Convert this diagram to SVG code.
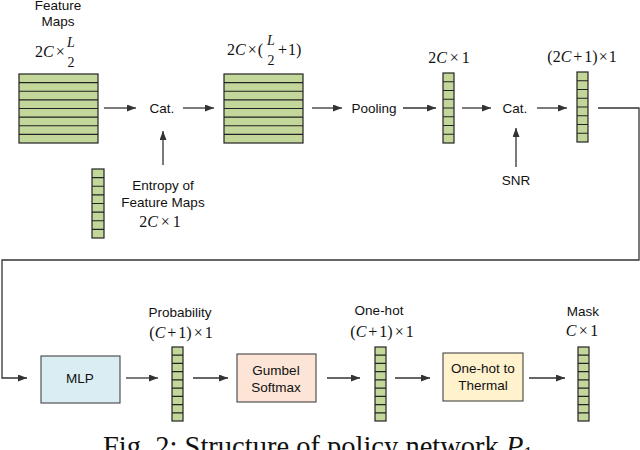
<svg xmlns="http://www.w3.org/2000/svg" width="640" height="450" viewBox="0 0 640 450">
<style>
.lbl{font-family:"Liberation Sans",Arial,sans-serif;font-size:13.5px;fill:#111;text-anchor:middle}
.math{font-family:"Liberation Serif","Times New Roman",serif;font-size:16px;fill:#111}
.mi{font-style:italic}
.frac{font-family:"Liberation Serif","Times New Roman",serif;font-size:14px;fill:#111;text-anchor:middle}
.grn{fill:#c4d79b;stroke:#222;stroke-width:1.2}
.sep{stroke:#222;stroke-width:1.2;fill:none}
.box{stroke:#444;stroke-width:1.1}
.con{stroke:#333;stroke-width:1.3;fill:none}
.cap{font-family:"Liberation Serif","Times New Roman",serif;font-size:28.5px;fill:#111}
</style>
<defs>
<marker id="ah" markerUnits="userSpaceOnUse" markerWidth="10" markerHeight="8" refX="9" refY="3.5" orient="auto">
<path d="M0,0 L9,3.5 L0,7 z" fill="#333"/>
</marker>
</defs>

<g id="connectors">
<path class="con" d="M104,108 H136" marker-end="url(#ah)"/>
<path class="con" d="M183,108 H214" marker-end="url(#ah)"/>
<path class="con" d="M163,165 V131" marker-end="url(#ah)"/>
<path class="con" d="M312,108 H342" marker-end="url(#ah)"/>
<path class="con" d="M403,108 H436" marker-end="url(#ah)"/>
<path class="con" d="M462,108 H491" marker-end="url(#ah)"/>
<path class="con" d="M537,108 H567" marker-end="url(#ah)"/>
<path class="con" d="M516,167 V128" marker-end="url(#ah)"/>
<path class="con" d="M598,108 H639 V260 H2 V378 H27" marker-end="url(#ah)"/>
<path class="con" d="M126,378 H158" marker-end="url(#ah)"/>
<path class="con" d="M193,378 H228" marker-end="url(#ah)"/>
<path class="con" d="M327,378 H360" marker-end="url(#ah)"/>
<path class="con" d="M395,378 H430" marker-end="url(#ah)"/>
<path class="con" d="M529,378 H565" marker-end="url(#ah)"/>
</g>

<g id="feature-maps">
<text class="lbl" x="58" y="10">Feature</text>
<text class="lbl" x="58" y="26">Maps</text>
<text class="math" x="35" y="57">2<tspan class="mi">C</tspan><tspan dx="2">×</tspan></text>
<text class="frac" x="71" y="47"><tspan class="mi">L</tspan></text>
<text class="frac" x="71" y="67">2</text>
<rect class="grn" x="19" y="74" width="79" height="69"/>
<path class="sep" d="M19,82.6H98M19,91.25H98M19,99.9H98M19,108.5H98M19,117.1H98M19,125.75H98M19,134.4H98"/>
</g>

<g id="cat1">
<text class="lbl" x="162" y="113">Cat.</text>
</g>

<g id="entropy">
<rect class="grn" x="92" y="169" width="12" height="69"/>
<path class="sep" d="M92,177.6H104M92,186.25H104M92,194.9H104M92,203.5H104M92,212.1H104M92,220.75H104M92,229.4H104"/>
<text class="lbl" x="163" y="190">Entropy of</text>
<text class="lbl" x="163" y="207">Feature Maps</text>
<text class="math" x="160" y="227" text-anchor="middle">2<tspan class="mi">C</tspan><tspan dx="3">×</tspan><tspan dx="3">1</tspan></text>
</g>

<g id="concat-maps">
<text class="math" x="227" y="55">2<tspan class="mi">C</tspan><tspan dx="2">×</tspan><tspan dx="1">(</tspan></text>
<text class="frac" x="271" y="45"><tspan class="mi">L</tspan></text>
<text class="frac" x="271" y="65">2</text>
<text class="math" x="278" y="55">+<tspan dx="1">1)</tspan></text>
<rect class="grn" x="224" y="74" width="79" height="69"/>
<path class="sep" d="M224,82.6H303M224,91.25H303M224,99.9H303M224,108.5H303M224,117.1H303M224,125.75H303M224,134.4H303"/>
</g>

<g id="pooling">
<text class="lbl" x="374" y="113">Pooling</text>
</g>

<g id="pooled">
<text class="math" x="449" y="63" text-anchor="middle">2<tspan class="mi">C</tspan><tspan dx="3">×</tspan><tspan dx="3">1</tspan></text>
<rect class="grn" x="443" y="73" width="11" height="70"/>
<path class="sep" d="M443,81.75H454M443,90.5H454M443,99.25H454M443,108H454M443,116.75H454M443,125.5H454M443,134.25H454"/>
</g>

<g id="cat2">
<text class="lbl" x="515" y="113">Cat.</text>
</g>

<g id="snr">
<text class="lbl" x="516" y="185">SNR</text>
</g>

<g id="combined">
<text class="math" x="582" y="62" text-anchor="middle">(2<tspan class="mi">C</tspan><tspan dx="2">+</tspan><tspan dx="2">1)</tspan><tspan dx="1">×</tspan><tspan dx="1">1</tspan></text>
<rect class="grn" x="577" y="72" width="11" height="70"/>
<path class="sep" d="M577,80.75H588M577,89.5H588M577,98.25H588M577,107H588M577,115.75H588M577,124.5H588M577,133.25H588"/>
</g>

<g id="mlp">
<rect class="box" x="41" y="356" width="79" height="47" fill="#daedf3"/>
<text class="lbl" x="80" y="383" font-size="14">MLP</text>
</g>

<g id="probability">
<text class="lbl" x="180" y="317">Probability</text>
<text class="math" x="181" y="338" text-anchor="middle">(<tspan class="mi">C</tspan><tspan dx="2">+</tspan><tspan dx="2">1)</tspan><tspan dx="2">×</tspan><tspan dx="2">1</tspan></text>
<rect class="grn" x="172" y="347" width="11" height="74"/>
<path class="sep" d="M172,355.2H183M172,363.4H183M172,371.7H183M172,379.9H183M172,388.1H183M172,396.3H183M172,404.6H183M172,412.8H183"/>
</g>

<g id="gumbel">
<rect class="box" x="237" y="354" width="79" height="48" fill="#fce4d6"/>
<text class="lbl" x="276" y="375">Gumbel</text>
<text class="lbl" x="276" y="392">Softmax</text>
</g>

<g id="onehot">
<text class="lbl" x="379" y="315">One-hot</text>
<text class="math" x="382" y="337" text-anchor="middle">(<tspan class="mi">C</tspan><tspan dx="2">+</tspan><tspan dx="2">1)</tspan><tspan dx="2">×</tspan><tspan dx="2">1</tspan></text>
<rect class="grn" x="375" y="347" width="11" height="74"/>
<path class="sep" d="M375,355.2H386M375,363.4H386M375,371.7H386M375,379.9H386M375,388.1H386M375,396.3H386M375,404.6H386M375,412.8H386"/>
</g>

<g id="thermal">
<rect class="box" x="443" y="353" width="80" height="48" fill="#fff2cc"/>
<text class="lbl" x="483" y="373">One-hot to</text>
<text class="lbl" x="483" y="390">Thermal</text>
</g>

<g id="mask">
<text class="lbl" x="583" y="316">Mask</text>
<text class="math" x="582" y="336" text-anchor="middle"><tspan class="mi">C</tspan><tspan dx="2.5">×</tspan><tspan dx="2.5">1</tspan></text>
<rect class="grn" x="578" y="347" width="11" height="74"/>
<path class="sep" d="M578,355.2H589M578,363.4H589M578,371.7H589M578,379.9H589M578,388.1H589M578,396.3H589M578,404.6H589M578,412.8H589"/>
</g>

<g id="caption">
<text class="cap" x="103" y="456">Fig. 2: Structure of policy network <tspan font-style="italic">P</tspan><tspan font-size="19" dy="4">1</tspan></text>
</g>
</svg>
